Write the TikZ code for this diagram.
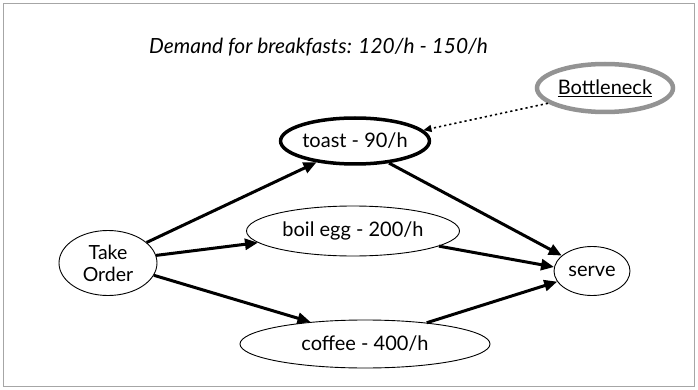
\documentclass[tikz,border=0pt]{standalone}
\usepackage{fontspec}
\setmainfont{Lato}
\usetikzlibrary{shapes.geometric,arrows.meta}

\tikzset{
  proc/.style={ellipse, draw, line width=0.9pt, inner sep=0pt,
    font=\fontsize{20}{24}\selectfont},
  flow/.style={line width=3pt, -{Triangle[length=13pt,width=11pt]}},
  hint/.style={line width=1.6pt, dash pattern=on 2.2pt off 3pt,
    -{Triangle[length=8pt,width=7pt]}}
}

\begin{document}
\begin{tikzpicture}[x=1pt,y=-1pt]
  \useasboundingbox (0,0) rectangle (698,390);
  % slide frame
  \draw[gray!70, line width=1.2pt] (3.5,3.5) rectangle (694.5,386.5);

  \node (title) at (318.5,47) {\fontsize{20.9}{24}\selectfont\itshape Demand for breakfasts: 120/h - 150/h};

  % process steps
  \node[proc, minimum width=98pt, minimum height=65pt, align=center,
        font=\fontsize{19.5}{22}\selectfont] (take) at (108,263) {Take\\Order};
  \node[proc, line width=3.5pt, minimum width=146pt, minimum height=46pt] (toast) at (355,141) {toast - 90/h};
  \node[proc, minimum width=213pt, minimum height=50pt] (egg) at (353,231) {boil egg - 200/h};
  \node[proc, minimum width=250pt, minimum height=48pt] (coffee) at (365,344) {coffee - 400/h};
  \node[proc, minimum width=76pt, minimum height=49pt] (serve) at (592,271) {serve};

  % annotation
  \node[proc, draw=gray!85, line width=4.5pt, minimum width=136pt, minimum height=48pt] (bn) at (605,88) {\underline{Bottleneck}};

  % connectors
  \draw[flow] (take.28) -- (toast.209);
  \draw[flow] (take.9) -- (egg.187);
  \draw[flow] (take.-15) -- (coffee.158);
  \draw[flow] (toast.-33) -- (serve.153);
  \draw[flow] (egg.-10) -- (serve.174);
  \draw[flow] (coffee.19) -- (serve.197);
  \draw[hint] (bn.195) -- (toast.9);
\end{tikzpicture}
\end{document}
